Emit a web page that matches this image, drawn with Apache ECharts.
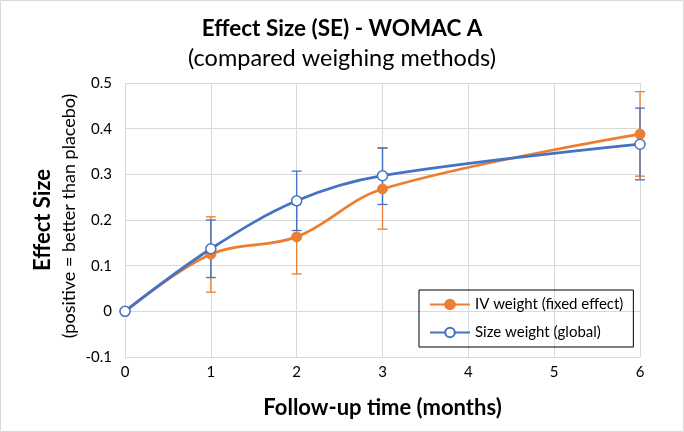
<!DOCTYPE html>
<html><head><meta charset="utf-8">
<script src="https://cdn.jsdelivr.net/npm/echarts@6/dist/echarts.min.js"></script>
<style>html,body{margin:0;padding:0;background:#fff}#c{width:684px;height:432px}</style>
</head><body><div id="c"></div>
<script>
var months = [0, 1, 2, 3, 6];
var ivValues = [0, 0.125, 0.163, 0.268, 0.388];
var ivLow = [0, 0.042, 0.082, 0.180, 0.296];
var ivHigh = [0, 0.207, 0.244, 0.357, 0.481];
var sizeValues = [0, 0.137, 0.242, 0.297, 0.366];
var sizeLow = [0, 0.074, 0.177, 0.234, 0.288];
var sizeHigh = [0, 0.200, 0.307, 0.358, 0.445];
var xTicks = [0, 1, 2, 3, 4, 5, 6];
var yTicks = [-0.1, 0, 0.1, 0.2, 0.3, 0.4, 0.5];

var ORANGE = '#ED7D31', BLUE = '#4472C4';
var FONT = 'Lato, "Open Sans", sans-serif';

function pairs(xs, ys) { return xs.map(function (x, i) { return [x, ys[i]]; }); }
function errData(xs, lo, hi) { return xs.map(function (x, i) { return [x, lo[i], hi[i]]; }); }
function errSeries(name, color, xs, lo, hi) {
  return {
    type: 'custom', name: name + ' err', silent: true, z: 1,
    data: errData(xs, lo, hi),
    renderItem: function (params, api) {
      var x = api.value(0);
      if (api.value(1) === api.value(2)) return null;
      var p1 = api.coord([x, api.value(1)]);
      var p2 = api.coord([x, api.value(2)]);
      var w = 5;
      var st = { stroke: color, lineWidth: 1.3 };
      return { type: 'group', children: [
        { type: 'line', shape: { x1: p1[0], y1: p1[1], x2: p2[0], y2: p2[1] }, style: st },
        { type: 'line', shape: { x1: p1[0] - w, y1: p1[1], x2: p1[0] + w, y2: p1[1] }, style: st },
        { type: 'line', shape: { x1: p2[0] - w, y1: p2[1], x2: p2[0] + w, y2: p2[1] }, style: st }
      ]};
    }
  };
}

var chart = echarts.init(document.getElementById('c'), null, { renderer: 'canvas' });
chart.setOption({
  animation: false,
  textStyle: { fontFamily: FONT },
  title: [
    { text: 'Effect Size (SE) - WOMAC A', left: 'center', top: 12,
      textStyle: { fontFamily: FONT, fontSize: 22.5, fontWeight: 'bold', color: '#000' } },
    { text: '(compared weighing methods)', left: 'center', top: 41,
      textStyle: { fontFamily: FONT, fontSize: 23.5, fontWeight: 'normal', color: '#000' } }
  ],
  graphic: [
    { type: 'rect', shape: { x: 0.5, y: 0.5, width: 683, height: 431 }, style: { fill: 'none', stroke: '#d9d9d9', lineWidth: 1 }, z: -1 },
    { type: 'text', left: 60, top: 'middle', rotation: Math.PI / 2, z: 10,
      style: { text: '(positive = better than placebo)', font: '18px ' + FONT, fill: '#000' } }
  ],
  grid: { left: 125, right: 44, top: 83, bottom: 75 },
  legend: {
    orient: 'vertical', left: 419, top: 290, width: 210,
    borderColor: '#000', borderWidth: 1, padding: [7, 10, 7, 10], itemGap: 13,
    itemWidth: 40, itemHeight: 12,
    textStyle: { fontFamily: FONT, fontSize: 15, color: '#000' },
    data: ['IV weight (fixed effect)', 'Size weight (global)']
  },
  xAxis: {
    type: 'value', min: 0, max: 6, interval: 1,
    name: 'Follow-up time (months)', nameLocation: 'middle', nameGap: 40,
    nameTextStyle: { fontFamily: FONT, fontSize: 22, fontWeight: 'bold', color: '#000' },
    axisLine: { show: false }, axisTick: { show: false },
    axisLabel: { color: '#000', fontSize: 15, margin: 8, formatter: function (v) { return xTicks.indexOf(v) >= 0 ? String(v) : ''; } },
    splitLine: { show: true, lineStyle: { color: '#d9d9d9' } }
  },
  yAxis: {
    type: 'value', min: -0.1, max: 0.5, interval: 0.1,
    name: 'Effect Size', nameLocation: 'middle', nameGap: 71, nameRotate: 90,
    nameTextStyle: { fontFamily: FONT, fontSize: 22, fontWeight: 'bold', color: '#000' },
    axisLine: { show: false }, axisTick: { show: false },
    axisLabel: { color: '#000', fontSize: 15, margin: 13, formatter: function (v) {
      var r = Math.round(v * 10) / 10; return yTicks.indexOf(r) >= 0 ? String(r) : ''; } },
    splitLine: { show: true, lineStyle: { color: '#d9d9d9' } }
  },
  series: [
    errSeries('iv', ORANGE, months, ivLow, ivHigh),
    errSeries('size', BLUE, months, sizeLow, sizeHigh),
    { type: 'line', name: 'IV weight (fixed effect)', data: pairs(months, ivValues), smooth: 0.35, z: 3,
      symbol: 'circle', symbolSize: 10, lineStyle: { color: ORANGE, width: 2.75 },
      itemStyle: { color: ORANGE, borderColor: ORANGE, borderWidth: 1 } },
    { type: 'line', name: 'Size weight (global)', data: pairs(months, sizeValues), smooth: 0.35, z: 4,
      symbol: 'circle', symbolSize: 10, lineStyle: { color: BLUE, width: 2.75 },
      itemStyle: { color: '#fff', borderColor: BLUE, borderWidth: 1.5 } }
  ]
});
</script></body></html>
